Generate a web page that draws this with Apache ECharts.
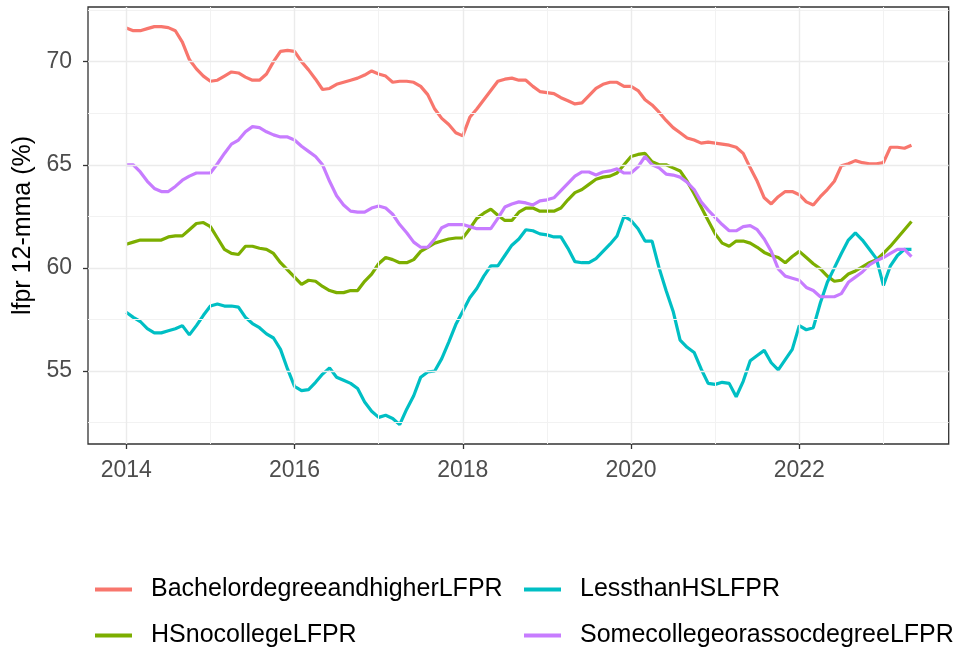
<!DOCTYPE html>
<html><head><meta charset="utf-8">
<script src="https://cdn.jsdelivr.net/npm/echarts@6/dist/echarts.min.js"></script>
<style>html,body{margin:0;padding:0;background:#fff}#c{width:962px;height:650px}</style>
</head><body><div id="c"></div>
<script>
// Monthly data, first point = January 2014
const startYear = 2014;
const seriesNames = ['BachelordegreeandhigherLFPR','HSnocollegeLFPR','LessthanHSLFPR','SomecollegeorassocdegreeLFPR'];
const bachelor = [
71.63,71.5,71.5,71.6,71.7,71.7,71.65,71.5,70.95,70.1,69.65,69.3,69.05,69.1,69.3,69.5,69.45,69.25,69.1,
69.1,69.4,70.0,70.5,70.55,70.5,70.0,69.6,69.15,68.65,68.7,68.9,69.0,69.1,69.2,69.35,69.55,69.4,
69.3,69.0,69.05,69.05,69.0,68.8,68.4,67.7,67.25,66.95,66.55,66.4,67.3,67.7,68.15,68.6,69.05,69.15,69.2,
69.1,69.1,68.8,68.55,68.5,68.45,68.25,68.1,67.95,68.0,68.35,68.7,68.9,69.0,69.0,68.8,68.8,68.6,68.15,
67.9,67.55,67.15,66.8,66.55,66.3,66.2,66.05,66.1,66.05,66.0,65.95,65.85,65.55,64.85,64.2,63.4,63.1,
63.45,63.7,63.7,63.55,63.2,63.05,63.45,63.8,64.2,64.95,65.05,65.2,65.1,65.05,65.05,65.1,65.85,65.85,65.8,65.95
];
const hsNoCollege = [
61.15,61.25,61.35,61.35,61.35,61.35,61.5,61.55,61.55,61.85,62.15,62.2,62.0,61.45,60.9,60.7,60.65,61.05,61.05,
60.95,60.9,60.7,60.25,59.9,59.55,59.2,59.4,59.35,59.1,58.9,58.8,58.8,58.9,58.9,59.35,59.7,60.2,
60.5,60.4,60.25,60.25,60.4,60.8,61.0,61.2,61.3,61.4,61.45,61.45,61.9,62.4,62.65,62.85,62.55,62.3,62.3,
62.7,62.9,62.9,62.75,62.75,62.75,62.9,63.3,63.65,63.8,64.05,64.3,64.4,64.45,64.6,65.0,65.4,65.5,65.55,
65.15,65.0,65.0,64.85,64.7,64.2,63.6,62.95,62.3,61.65,61.2,61.05,61.3,61.3,61.2,61.0,60.75,60.6,
60.5,60.25,60.55,60.8,60.5,60.2,59.95,59.6,59.35,59.4,59.7,59.85,60.05,60.25,60.4,60.7,61.05,61.45,61.85,62.25
];
const lessThanHS = [
57.85,57.6,57.4,57.05,56.85,56.85,56.95,57.05,57.2,56.75,57.2,57.7,58.15,58.25,58.15,58.15,58.1,57.6,57.3,
57.1,56.8,56.6,56.05,55.1,54.25,54.05,54.1,54.45,54.85,55.15,54.7,54.55,54.4,54.15,53.5,53.05,52.75,
52.85,52.7,52.4,53.15,53.8,54.7,54.95,55.0,55.6,56.4,57.25,57.9,58.55,59.0,59.6,60.1,60.1,60.6,61.1,
61.4,61.85,61.8,61.65,61.6,61.5,61.5,60.95,60.3,60.25,60.25,60.45,60.8,61.15,61.55,62.5,62.3,61.9,61.3,
61.3,60.0,58.9,57.9,56.5,56.15,55.9,55.1,54.4,54.35,54.45,54.4,53.75,54.5,55.5,55.75,56.0,55.4,
55.05,55.55,56.05,57.2,57.0,57.1,58.3,59.3,60.0,60.7,61.35,61.7,61.35,60.9,60.45,59.15,60.1,60.6,60.9,60.9
];
const someCollege = [
65.0,65.0,64.65,64.2,63.85,63.7,63.7,63.95,64.25,64.45,64.6,64.6,64.6,65.05,65.55,66.0,66.2,66.6,66.85,
66.8,66.6,66.45,66.35,66.35,66.2,65.9,65.65,65.4,65.0,64.2,63.5,63.05,62.75,62.7,62.7,62.9,63.0,
62.9,62.6,62.1,61.7,61.25,61.0,61.0,61.4,61.95,62.1,62.1,62.1,62.0,61.9,61.9,61.9,62.4,62.95,63.1,
63.2,63.15,63.05,63.25,63.3,63.4,63.75,64.1,64.45,64.65,64.65,64.5,64.65,64.7,64.8,64.6,64.6,64.9,65.4,
65.0,64.85,64.55,64.5,64.4,64.15,63.8,63.2,62.8,62.45,62.1,61.8,61.8,62.0,62.05,61.85,61.4,60.8,
59.95,59.6,59.5,59.4,59.05,58.9,58.6,58.6,58.6,58.75,59.3,59.55,59.8,60.15,60.35,60.5,60.7,60.9,60.9,60.55
];
const xMajorTicks = [2014, 2016, 2018, 2020, 2022];
const xMinorTicks = [2015, 2017, 2019, 2021, 2023];
const yMajorTicks = [55, 60, 65, 70];
const yMinorTicks = [52.5, 57.5, 62.5, 67.5, 72.5];

const colors = ['#F8766D', '#7CAE00', '#00BFC4', '#C77CFF'];
const FONT = '"Liberation Sans", Arial, sans-serif';

function toPairs(vals) { return vals.map((v, i) => [startYear + i / 12, v]); }

const major = { color: '#EBEBEB', width: 1.4, type: 'solid' };
const minor = { color: '#F2F2F2', width: 1, type: 'solid' };
const gridData = [].concat(
  xMinorTicks.map(v => ({ xAxis: v, lineStyle: minor })),
  yMinorTicks.map(v => ({ yAxis: v, lineStyle: minor })),
  xMajorTicks.map(v => ({ xAxis: v, lineStyle: major })),
  yMajorTicks.map(v => ({ yAxis: v, lineStyle: major }))
);

const dataSets = [bachelor, hsNoCollege, lessThanHS, someCollege];
const lineSeries = dataSets.map((d, k) => ({
  name: seriesNames[k], type: 'line', data: toPairs(d), showSymbol: false, symbol: 'none',
  lineStyle: { width: 3.2, color: colors[k] }, itemStyle: { color: colors[k] }, z: 3, animation: false
}));

const legendBase = {
  icon: 'rect', itemWidth: 37, itemHeight: 4, padding: 0, selectedMode: false,
  textStyle: { fontSize: 25, color: '#000', fontFamily: FONT, padding: [0, 0, 0, 14] }
};

const chart = echarts.init(document.getElementById('c'), null, { renderer: 'canvas' });
chart.setOption({
  animation: false,
  backgroundColor: '#fff',
  grid: { left: 88, top: 7, right: 13.3, bottom: 206, show: true, borderColor: '#333', borderWidth: 1.3, backgroundColor: '#fff' },
  xAxis: {
    type: 'value', min: 2013.545, max: 2023.776,
    axisLine: { show: false },
    axisTick: { show: true, length: 5, lineStyle: { color: '#333', width: 1.3 }, customValues: xMajorTicks },
    axisLabel: { customValues: xMajorTicks, formatter: v => String(v), fontSize: 23, color: '#4D4D4D', fontFamily: FONT, margin: 15 },
    splitLine: { show: false }
  },
  yAxis: {
    type: 'value', min: 51.46, max: 72.65,
    name: 'lfpr 12-mma (%)', nameLocation: 'middle', nameRotate: 90, nameGap: 48,
    nameTextStyle: { fontSize: 25, color: '#000', fontFamily: FONT },
    axisLine: { show: false },
    axisTick: { show: true, length: 5, lineStyle: { color: '#333', width: 1.3 }, customValues: yMajorTicks },
    axisLabel: { customValues: yMajorTicks, formatter: v => String(v), fontSize: 23, color: '#4D4D4D', fontFamily: FONT, margin: 16 },
    splitLine: { show: false }
  },
  legend: [
    Object.assign({ data: [seriesNames[0]], left: 95, top: 577 }, legendBase),
    Object.assign({ data: [seriesNames[2]], left: 524, top: 577 }, legendBase),
    Object.assign({ data: [seriesNames[1]], left: 95, top: 623 }, legendBase),
    Object.assign({ data: [seriesNames[3]], left: 524, top: 623 }, legendBase)
  ],
  series: [{
    name: 'grid', type: 'line', data: [], z: 1, silent: true, animation: false,
    markLine: { silent: true, symbol: ['none', 'none'], label: { show: false }, animation: false, data: gridData }
  }].concat(lineSeries)
});
</script></body></html>
